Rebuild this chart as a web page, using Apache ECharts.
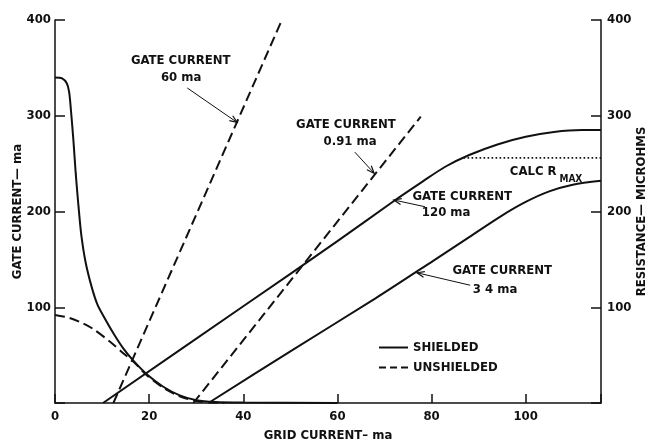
<!DOCTYPE html>
<html>
<head>
<meta charset="utf-8">
<script src="https://cdn.jsdelivr.net/npm/echarts@6/dist/echarts.min.js"></script>
<style>
html,body{margin:0;padding:0;background:#fff;}
#chart{width:648px;height:444px;}
</style>
</head>
<body>
<div id="chart"></div>
<script>
// ---- data (grid current in ma on x) ----
const xTickLabels = [0, 20, 40, 60, 80, 100];
const yTickLabels = [100, 200, 300, 400];

// gate current, shielded (left axis)
const gateShielded = [[0,340],[1.5,339],[2.5,334],[3,325],[3.4,305],[3.9,275],[4.4,240],[5,205],[5.6,175],[6.5,147],[7.8,121],[9,103],[10.5,89],[12.5,72],[14.5,57],[16.5,45],[19.5,30],[23,17],[26.5,8],[30,3],[34,1],[40,0.4],[60,0]];
// gate current, unshielded (left axis)
const gateUnshielded = [[0,92],[3,89],[6,83],[8.2,77],[11.7,64],[14.5,52],[16.7,43],[19.5,29],[23,16],[26.5,7],[30,2],[33,0.5],[36,0]];
// resistance, shielded, gate current 120 ma (right axis)
const res120 = [[10.2,0],[40,101],[60,169],[72,211],[78,231],[83,247],[88,259],[94,270],[100,278],[106,283],[112,285],[116,285]];
// resistance, shielded, gate current 3 4 ma (right axis)
const res34 = [[32.6,0],[50,54],[68,109],[80.5,149],[87.6,172],[94.7,195],[100,210],[105,221],[110,228],[116,232]];
// resistance, unshielded, gate current 60 ma
const res60 = [[12.4,0],[48.2,400]];
// resistance, unshielded, gate current 0.91 ma
const res091 = [[29.4,0],[77.7,299]];
// calculated R max
const calcRmax = [[86.8,256],[116,256]];

// annotation texts (data coordinates)
const notes = [
  {text:'GATE CURRENT', at:[26.7,357.2]},
  {text:'60 ma', at:[26.8,339.4]},
  {text:'GATE CURRENT', at:[61.8,290.3]},
  {text:'0.91 ma', at:[62.7,272.6]},
  {text:'GATE CURRENT', at:[86.5,215.1]},
  {text:'120 ma', at:[83.1,198.4]},
  {text:'GATE CURRENT', at:[95.0,137.9]},
  {text:'3 4 ma', at:[93.5,118.0]},
  {text:'CALC R', at:[101.6,241.3]},
  {text:'MAX', at:[109.6,233.9], small:true}
];
const arrows = [
  {from:[28.1,329], to:[38.7,293]},
  {from:[63.7,262], to:[67.8,240]},
  {from:[78.6,205], to:[72.0,212]},
  {from:[88.2,123], to:[76.9,136]}
];

const INK = '#111';
const FONT = '"DejaVu Sans Condensed", "DejaVu Sans", sans-serif';
const dash = [10, 5];

const chart = echarts.init(document.getElementById('chart'), null, {renderer:'canvas'});

function yAxisCfg(pos, name) {
  return {
    type:'value', position:pos, min:0, max:400, interval:100,
    name:name, nameLocation:'middle', nameRotate:90, nameMoveOverlap:false,
    nameGap: pos === 'left' ? 31 : 34,
    nameTextStyle:{color:INK, fontFamily:FONT, fontSize:13, fontWeight:'bold'},
    axisLine:{show:true, lineStyle:{color:INK, width:1.5}},
    axisTick:{show:true, inside:true, length:10, lineStyle:{color:INK, width:1.5}},
    axisLabel:{color:INK, fontFamily:FONT, fontSize:13, fontWeight:'bold', margin: pos === 'left' ? 4 : 6,
      formatter: v => yTickLabels.includes(v) ? String(v) : ''},
    splitLine:{show:false}
  };
}

function lineSeries(name, data, yIdx, type, smooth) {
  return {
    type:'line', name:name, data:data, yAxisIndex:yIdx, symbol:'none',
    smooth:smooth,
    lineStyle:{color:INK, width:2, type:type}, itemStyle:{color:INK},
    silent:true, animation:false, z:3
  };
}

chart.setOption({
  backgroundColor:'#fff',
  animation:false,
  grid:{left:55, right:47, top:20, bottom:41, containLabel:false, outerBoundsMode:'none'},
  xAxis:{
    type:'value', min:0, max:116, interval:20,
    name:'GRID CURRENT– ma', nameLocation:'middle', nameGap:26, nameMoveOverlap:false,
    nameTextStyle:{color:INK, fontFamily:FONT, fontSize:13, fontWeight:'bold'},
    axisLine:{show:true, lineStyle:{color:INK, width:1.5}},
    axisTick:{show:true, inside:true, length:9, lineStyle:{color:INK, width:1.5}},
    axisLabel:{color:INK, fontFamily:FONT, fontSize:13, fontWeight:'bold', margin:7,
      formatter: v => xTickLabels.includes(v) ? String(v) : ''},
    splitLine:{show:false}
  },
  yAxis:[ yAxisCfg('left', 'GATE CURRENT— ma'), yAxisCfg('right', 'RESISTANCE— MICROHMS') ],
  legend:{
    orient:'vertical', left:378, top:341, padding:0, itemGap:7,
    itemWidth:29, itemHeight:14,
    itemStyle:{opacity:0},
    textStyle:{color:INK, fontFamily:FONT, fontSize:13, fontWeight:'bold'},
    data:[{name:'SHIELDED'}, {name:'UNSHIELDED', lineStyle:{type:[7,4]}}]
  },
  series:[
    lineSeries('SHIELDED', gateShielded, 0, 'solid', 0.3),
    lineSeries('UNSHIELDED', gateUnshielded, 0, dash, 0.3),
    lineSeries('SHIELDED', res120, 1, 'solid', 0.3),
    lineSeries('SHIELDED', res34, 1, 'solid', 0.3),
    lineSeries('UNSHIELDED', res60, 1, dash, false),
    lineSeries('UNSHIELDED', res091, 1, dash, false),
    {type:'line', name:'CALC R MAX', data:calcRmax, yAxisIndex:1, symbol:'none',
     lineStyle:{color:INK, width:1.6, type:[1.6,2.4]}, silent:true, z:2}
  ]
});

// annotations placed through the chart's own coordinate conversion
const g = [];
notes.forEach(n => {
  const p = chart.convertToPixel({gridIndex:0}, n.at);
  g.push({type:'text', x:p[0], y:p[1], silent:true,
    style:{text:n.text, fill:INK, font:'bold ' + (n.small ? '10px ' : '13px ') + FONT,
      textAlign:'center', textVerticalAlign:'middle'}});
});
arrows.forEach(a => {
  const p0 = chart.convertToPixel({gridIndex:0}, a.from);
  const p1 = chart.convertToPixel({gridIndex:0}, a.to);
  g.push({type:'line', silent:true, shape:{x1:p0[0], y1:p0[1], x2:p1[0], y2:p1[1]},
    style:{stroke:INK, lineWidth:1}});
  const ang = Math.atan2(p1[1]-p0[1], p1[0]-p0[0]);
  const L = 8, w = 0.38;
  g.push({type:'polyline', silent:true, shape:{points:[
      [p1[0]-L*Math.cos(ang-w), p1[1]-L*Math.sin(ang-w)],
      [p1[0], p1[1]],
      [p1[0]-L*Math.cos(ang+w), p1[1]-L*Math.sin(ang+w)]]},
    style:{stroke:INK, lineWidth:1.2, fill:null}});
});
chart.setOption({graphic:g});
</script>
</body>
</html>
